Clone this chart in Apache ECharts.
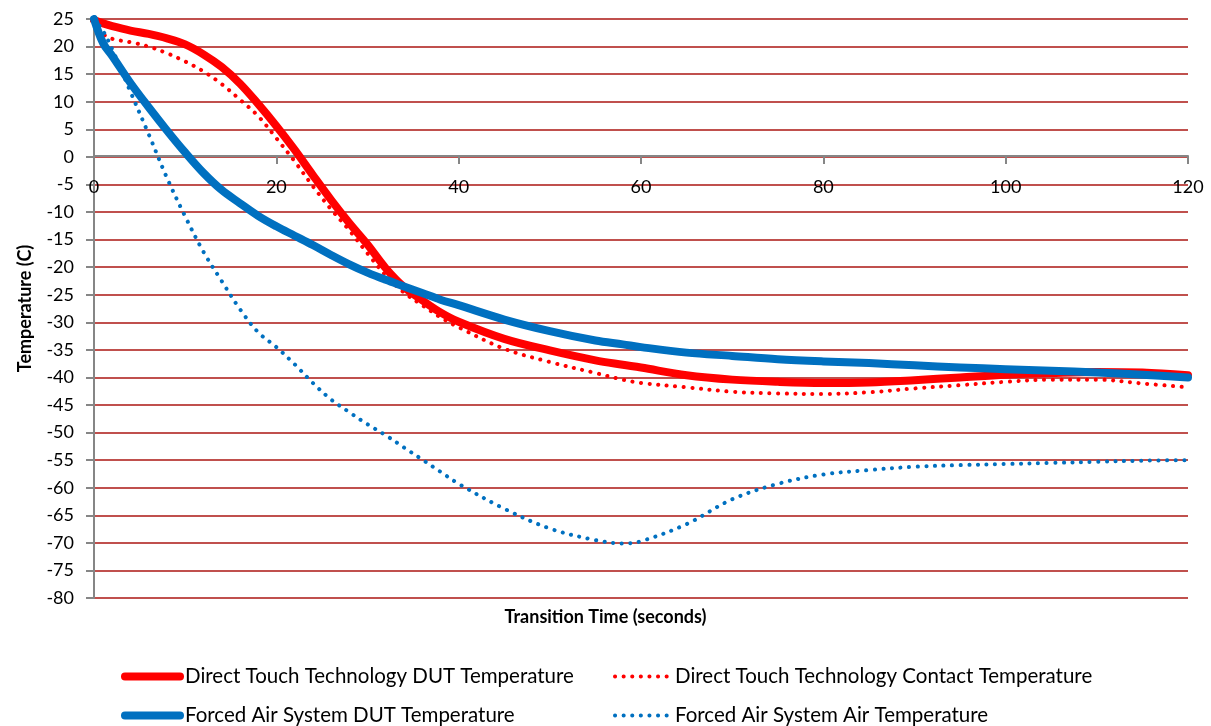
<!DOCTYPE html>
<html><head><meta charset="utf-8">
<script src="https://cdn.jsdelivr.net/npm/echarts@6/dist/echarts.min.js"></script>
<style>html,body{margin:0;padding:0;background:#fff}#c{width:1211px;height:726px}</style>
</head><body><div id="c"></div>
<script>
const timeSec    = [0, 1, 2, 4, 6, 8, 10, 12, 14, 16, 18, 20, 22, 24, 26, 28, 30, 32, 34, 36, 38, 40, 45, 50, 55, 58, 60, 65, 70, 75, 80, 85, 90, 95, 100, 105, 110, 115, 120];
const dttDut     = [24.8, 24.2, 23.7, 22.9, 22.3, 21.5, 20.4, 18.6, 16.3, 13.3, 9.6, 5.6, 1.3, -3.3, -7.8, -12, -15.9, -20.2, -23.6, -26, -28.2, -29.9, -33, -35.1, -36.9, -37.7, -38.2, -39.6, -40.4, -40.8, -41, -40.9, -40.5, -40, -39.5, -39.2, -39, -39.1, -39.6];
const dttContact = [24.5, 22.3, 21.4, 20.8, 20, 18.8, 17.3, 15.5, 13.2, 10.4, 7.4, 3.4, -0.8, -5.3, -9.5, -13.3, -17.5, -21.5, -24.6, -26.9, -29.1, -30.9, -34.8, -37.2, -39.2, -40.4, -41, -41.8, -42.6, -42.9, -43, -42.7, -42, -41.4, -40.8, -40.4, -40.4, -41.1, -41.8];
const fasDut     = [25, 20.6, 18.3, 13.4, 9, 4.8, 0.8, -2.9, -6, -8.4, -10.7, -12.6, -14.3, -16, -17.8, -19.5, -21, -22.3, -23.5, -24.7, -25.9, -26.9, -29.5, -31.6, -33.3, -34, -34.5, -35.5, -36.1, -36.7, -37.1, -37.4, -37.8, -38.2, -38.5, -38.8, -39.1, -39.5, -40];
const fasAir     = [25, 22.8, 19.5, 11.8, 4.1, -3.8, -10.8, -17.2, -22.5, -27.6, -31.8, -34.5, -37.6, -41, -44, -46.3, -48.5, -50.5, -52.7, -54.9, -57.1, -59.3, -63.8, -67.4, -69.5, -70.1, -69.7, -66.6, -62.1, -59.3, -57.6, -56.8, -56.2, -55.9, -55.7, -55.5, -55.3, -55.1, -55];
const seriesNames = [
  'Direct Touch Technology DUT Temperature',
  'Direct Touch Technology Contact Temperature',
  'Forced Air System DUT Temperature',
  'Forced Air System Air Temperature'
];
const xTitle = 'Transition Time (seconds)';
const yTitle = 'Temperature (C)';

const FONT = 'Lato';
const RED = '#FF0000', BLUE = '#0070C0', GRID = '#C0504D', AXIS = '#868686';
const pairs = arr => timeSec.map((t, i) => [t, arr[i]]);

const solid = (name, color, data) => ({
  name, type: 'line', data: pairs(data), symbol: 'none', smooth: 0.35,
  lineStyle: { color, width: 8, cap: 'round', join: 'round' }, itemStyle: { color }
});
const dotted = (name, color, data) => ({
  name, type: 'line', data: pairs(data), symbol: 'none', smooth: 0.35,
  lineStyle: { color, width: 4, type: [0.1, 8.5], cap: 'round' }, itemStyle: { color }
});

// one legend per item, placed in a 2 x 2 layout
const legendPos = [[121, 666], [613, 666], [121, 705], [613, 705]];
const legends = [0, 1, 2, 3].map((si, k) => ({
  data: [seriesNames[si]], left: legendPos[k][0], top: legendPos[k][1], padding: 0,
  itemWidth: 55, itemHeight: 24,
  lineStyle: { width: si % 2 === 0 ? 8 : 4 },
  itemStyle: { opacity: 0 },
  textStyle: { fontSize: 20.5, color: '#000', fontFamily: FONT }
}));

const chart = echarts.init(document.getElementById('c'));
chart.setOption({
  animation: false,
  textStyle: { fontFamily: FONT },
  grid: { left: 94, right: 23, top: 19, bottom: 128, containLabel: false },
  xAxis: {
    type: 'value', min: 0, max: 120, interval: 20,
    offset: -442,
    axisLine: { show: true, onZero: false, lineStyle: { color: AXIS, width: 2 } },
    axisTick: { show: true, length: 8, lineStyle: { color: AXIS, width: 2 } },
    axisLabel: { margin: 22, fontSize: 18, color: '#000', fontFamily: FONT },
    splitLine: { show: false }
  },
  yAxis: {
    type: 'value', min: -80, max: 25, interval: 5,
    name: yTitle, nameLocation: 'middle', nameGap: 60,
    nameTextStyle: { fontSize: 18, fontWeight: 'bold', color: '#000', fontFamily: FONT },
    axisLine: { show: true, lineStyle: { color: AXIS, width: 2 } },
    axisTick: { show: true, length: 8, lineStyle: { color: AXIS, width: 2 } },
    axisLabel: { margin: 20, fontSize: 18, color: '#000', fontFamily: FONT },
    splitLine: { show: true, lineStyle: { color: GRID, width: 2 } }
  },
  legend: legends,
  graphic: [{
    type: 'text', left: 'center', top: 608,
    style: { text: xTitle, fontSize: 18, fontWeight: 'bold', fill: '#000', fontFamily: FONT }
  }],
  series: [
    solid(seriesNames[0], RED, dttDut),
    dotted(seriesNames[1], RED, dttContact),
    solid(seriesNames[2], BLUE, fasDut),
    dotted(seriesNames[3], BLUE, fasAir)
  ]
});
</script></body></html>
